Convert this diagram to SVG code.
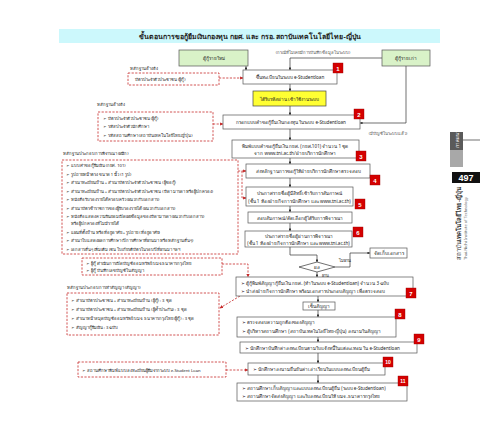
<svg xmlns="http://www.w3.org/2000/svg" width="480" height="436" viewBox="0 0 480 436">
<defs>
<style>
text{font-family:"Noto Sans","Liberation Sans","DejaVu Sans",sans-serif;fill:#222;}
.t{font-size:4.6px;}
.tc{font-size:4.6px;text-anchor:middle;}
.s{font-size:4.2px;}
.g{font-size:4.2px;fill:#555;}
.box{fill:#fff;stroke:#555;stroke-width:0.7;}
.dash{fill:none;stroke:#c62828;stroke-width:0.8;stroke-dasharray:2.2,1.4;}
.ln{fill:none;stroke:#333;stroke-width:0.7;}
.lab{fill:#d40000;stroke:#900;stroke-width:0.4;}
.labt{font-size:6px;font-weight:bold;fill:#fff;text-anchor:middle;font-family:"Liberation Sans",sans-serif;}
.grn{fill:#d9f2c8;stroke:#555;stroke-width:0.7;}
</style>
<marker id="a" viewBox="0 0 6 6" refX="5.5" refY="3" markerWidth="4" markerHeight="4" orient="auto"><path d="M0,0L6,3L0,6z" fill="#333"/></marker>
<marker id="r" viewBox="0 0 6 6" refX="5.5" refY="3" markerWidth="4" markerHeight="4" orient="auto"><path d="M0,0L6,3L0,6z" fill="#c62828"/></marker>
</defs>
<rect width="480" height="436" fill="#fff"/>

<g id="title">
<rect x="59" y="29" width="381" height="14" fill="#ccf8fc"/>
<text x="250" y="39" style="font-size:7px;font-weight:bold;text-anchor:middle">ขั้นตอนการขอกู้ยืมเงินกองทุน กยศ. และ กรอ. สถาบันเทคโนโลยีไทย-ญี่ปุ่น</text>
</g>

<g id="connectors">
<path class="ln" d="M246,66V70" marker-end="url(#a)"/>
<path class="ln" d="M382,58H290V70" marker-end="url(#a)"/>
<path class="ln" d="M290,84V91" marker-end="url(#a)"/>
<path class="ln" d="M290,106V115" marker-end="url(#a)"/>
<path class="ln" d="M406,66V123H360" marker-end="url(#a)"/>
<path class="ln" d="M290,129V140" marker-end="url(#a)"/>
<path class="ln" d="M290,158V164" marker-end="url(#a)"/>
<path class="ln" d="M290,178V187" marker-end="url(#a)"/>
<path class="ln" d="M290,206V212" marker-end="url(#a)"/>
<path class="ln" d="M290,223V231" marker-end="url(#a)"/>
<path class="ln" d="M290,247V255H317V262" marker-end="url(#a)"/>
<path class="ln" d="M335,267H350V253H370" marker-end="url(#a)"/>
<path class="ln" d="M317,272V277" marker-end="url(#a)"/>
<path class="ln" d="M318,296V302" marker-end="url(#a)"/>
<path class="ln" d="M318,310V317" marker-end="url(#a)"/>
<path class="ln" d="M318,337V342" marker-end="url(#a)"/>
<path class="ln" d="M318,353V363" marker-end="url(#a)"/>
<path class="ln" d="M318,375V383" marker-end="url(#a)"/>
<path class="dash" d="M219,78H243" marker-end="url(#r)"/>
<path class="dash" d="M213,124H223" marker-end="url(#r)"/>
<path class="dash" d="M238,171H246" marker-end="url(#r)"/>
<path class="dash" d="M242,171V198H246" marker-end="url(#r)"/>
<path class="dash" d="M222,264H248V277" marker-end="url(#r)"/>
<path class="dash" d="M240,296L220,308" marker-end="url(#r)"/>
<path class="dash" d="M226,370H248" marker-end="url(#r)"/>
<text class="g" x="313" y="54" text-anchor="middle">(กรณีที่ไม่เคยมีการบันทึกข้อมูลในระบบ)</text>
<text class="g" x="388" y="135" text-anchor="middle">(มีบัญชีในระบบแล้ว)</text>
<text class="s" x="339" y="262">ไม่ผ่าน</text>
<text class="s" x="322" y="277">ผ่าน</text>
</g>

<g id="new-borrower"><rect class="grn" x="179" y="50" width="69" height="16"/><text class="tc" x="213.5" y="60">ผู้กู้รายใหม่</text></g>
<g id="old-borrower"><rect class="grn" x="382" y="50" width="48" height="16"/><text class="tc" x="406" y="60">ผู้กู้รายเก่า</text></g>

<g id="step1"><rect class="box" x="243" y="70" width="94" height="14"/><text class="tc" x="290" y="79">ขึ้นทะเบียนในระบบ e-Studentloan</text>
<rect class="lab" x="333" y="63" width="10" height="10"/><text class="labt" x="338" y="70.5">1</text></g>

<g id="ev1"><text class="s" x="130" y="70">หลักฐานอ้างอิง</text><rect class="dash" x="128" y="73" width="91" height="12"/><text class="s" x="135" y="80.5">บัตรประจำตัวประชาชน (ผู้กู้)</text></g>

<g id="password"><rect x="253" y="91" width="73" height="15" fill="#ffff33" stroke="#444" stroke-width="0.7"/><text class="tc" x="289.5" y="100.5">ได้รับรหัสผ่าน เข้าใช้งานระบบ</text></g>

<g id="step2"><rect class="box" x="223" y="115" width="137" height="14"/><text class="tc" x="291" y="124">กรอกแบบคำขอกู้ยืมเงินกองทุน ในระบบ e-Studentloan</text>
<rect class="lab" x="354" y="109" width="10" height="10"/><text class="labt" x="359" y="116.5">2</text></g>

<g id="ev2"><text class="s" x="97" y="106">หลักฐานอ้างอิง</text><rect class="dash" x="98" y="112" width="115" height="29"/>
<text class="s" x="103" y="120">➢ บัตรประจำตัวประชาชน (ผู้กู้)</text>
<text class="s" x="103" y="128">➢ รหัสประจำตัวนักศึกษา</text>
<text class="s" x="103" y="136.5">➢ รหัสสถานศึกษา (สถาบันเทคโนโลยีไทย-ญี่ปุ่น)</text></g>

<g id="step3"><rect class="box" x="232" y="140" width="127" height="18"/>
<text class="tc" x="295" y="147.5">พิมพ์แบบคำขอกู้ยืมเงิน กยศ. (กยศ.101) จำนวน 1 ชุด</text>
<text class="tc" x="295" y="155">จาก www.tni.ac.th/ฝ่ายบริการนักศึกษา</text>
<rect class="lab" x="356" y="151" width="10" height="10"/><text class="labt" x="361" y="158.5">3</text></g>

<g id="ev3"><text class="s" x="63" y="155">หลักฐานประกอบการพิจารณา (ผนึก)</text><rect class="dash" x="62" y="160" width="176" height="94"/>
<text class="s" x="66" y="167">➢ แบบคำขอกู้ยืมเงิน (กยศ. 101)</text>
<text class="s" x="66" y="175.5">➢ รูปถ่ายหน้าตรง ขนาด 1 นิ้ว (1 รูป)</text>
<text class="s" x="66" y="184">➢ สำเนาทะเบียนบ้าน + สำเนาบัตรประจำตัวประชาชน (ผู้ขอกู้)</text>
<text class="s" x="66" y="192.5">➢ สำเนาทะเบียนบ้าน + สำเนาบัตรประจำตัวประชาชน (บิดา มารดา หรือผู้ปกครอง)</text>
<text class="s" x="66" y="201">➢ หนังสือรับรองรายได้ครอบครัว (ผนวกกับเอกสาร)</text>
<text class="s" x="66" y="209.5">➢ สำเนาบัตรข้าราชการของผู้รับรองรายได้ (ผนวกกับเอกสาร)</text>
<text class="s" x="66" y="218">➢ หนังสือแสดงความยินยอมเปิดเผยข้อมูลของบิดามารดา (ผนวกกับเอกสาร)</text>
<text class="s" x="71" y="225">หรือผู้ปกครองที่ไม่มีรายได้</text>
<text class="s" x="66" y="233.5">➢ แผนที่ตั้งบ้าน หรือที่อยู่อาศัย + รูปถ่าย (ที่อยู่อาศัย)</text>
<text class="s" x="66" y="242">➢ สำเนาใบแสดงผลการศึกษา (ปีการศึกษาที่ผ่านมา หรือหลักฐานอื่นๆ)</text>
<text class="s" x="66" y="250.5">➢ เอกสารอื่นๆ เพิ่มเติม เช่น ใบเกียรติบัตรในรอบปีที่ผ่านมา ฯลฯ</text></g>

<g id="step4"><rect class="box" x="246" y="164" width="124" height="14"/><text class="tc" x="308" y="173">ส่งหลักฐานการขอกู้ให้ฝ่ายบริการนักศึกษาตรวจสอบ</text>
<rect class="lab" x="370" y="175" width="10" height="10"/><text class="labt" x="375" y="182.5">4</text></g>

<g id="step5"><rect class="box" x="246" y="187" width="107" height="19"/>
<text class="tc" x="299.5" y="195">ประกาศรายชื่อผู้มีสิทธิ์เข้ารับการสัมภาษณ์</text>
<text class="tc" x="299.5" y="202.5">(ชั้น 1 ห้องฝ่ายกิจการนักศึกษา และ www.tni.ac.th)</text>
<rect class="lab" x="355" y="199" width="10" height="10"/><text class="labt" x="360" y="206.5">5</text></g>

<g id="interview"><rect class="box" x="248" y="212" width="104" height="11"/><text class="tc" x="300" y="219.5">สอบสัมภาษณ์/คัดเลือกผู้ได้รับการพิจารณา</text></g>

<g id="step6"><rect class="box" x="245" y="231" width="107" height="16"/>
<text class="tc" x="298.5" y="238">ประกาศรายชื่อผู้ผ่านการพิจารณา</text>
<text class="tc" x="298.5" y="245">(ชั้น 1 ห้องฝ่ายกิจการนักศึกษา และ www.tni.ac.th)</text>
<rect class="lab" x="353" y="227" width="10" height="10"/><text class="labt" x="358" y="234.5">6</text></g>

<g id="result"><polygon points="299,267 317,262 335,267 317,272" fill="#fff" stroke="#333" stroke-width="0.7"/><text class="tc" x="317" y="269">ผล</text></g>

<g id="archive"><rect class="box" x="370" y="248" width="37" height="10"/><text class="tc" x="388.5" y="255">จัดเก็บเอกสาร</text></g>

<g id="guarantor"><rect class="dash" x="82" y="258" width="140" height="17"/>
<text class="s" x="86" y="265">➢ ผู้กู้ ดำเนินการเปิดบัญชีออมทรัพย์ บมจ.ธนาคารกรุงไทย</text>
<text class="s" x="86" y="272">➢ ผู้กู้ บันทึกเลขบัญชีในสัญญา</text></g>

<g id="step7"><rect class="box" x="236" y="277" width="177" height="19"/>
<text class="t" x="241" y="284.5">➢ ผู้กู้พิมพ์สัญญากู้ยืมเงิน กยศ. (ทำในระบบ e-Studentloan) จำนวน 3 ฉบับ</text>
<text class="t" x="241" y="293">➢ นำส่งฝ่ายกิจการนักศึกษา พร้อมเอกสารประกอบสัญญา เพื่อตรวจสอบ</text>
<rect class="lab" x="406" y="288" width="10" height="10"/><text class="labt" x="411" y="295.5">7</text></g>

<g id="ev4"><text class="s" x="67" y="289">หลักฐานประกอบการทำสัญญา (สัญญา)</text><rect class="dash" x="67" y="293" width="152" height="42"/>
<text class="s" x="71" y="302">➢ สำเนาบัตรประชาชน + สำเนาทะเบียนบ้าน (ผู้กู้) : 3 ชุด</text>
<text class="s" x="71" y="311">➢ สำเนาบัตรประชาชน + สำเนาทะเบียนบ้าน (ผู้ค้ำประกัน) : 3 ชุด</text>
<text class="s" x="71" y="320">➢ สำเนาหน้าสมุดบัญชีออมทรัพย์ บมจ. ธนาคารกรุงไทย (ผู้กู้) : 3 ชุด</text>
<text class="s" x="71" y="329">➢ สัญญากู้ยืมเงิน : 3 ฉบับ</text></g>

<g id="sign"><rect class="box" x="303" y="302" width="32" height="8"/><text class="tc" x="319" y="308">เซ็นสัญญา</text></g>

<g id="step8"><rect class="box" x="237" y="317" width="159" height="20"/>
<text class="t" x="242" y="324">➢ ตรวจสอบความถูกต้องของสัญญา</text>
<text class="t" x="242" y="333">➢ ผู้บริหารสถานศึกษา (สถาบันเทคโนโลยีไทย-ญี่ปุ่น) ลงนามในสัญญา</text>
<rect class="lab" x="395" y="309" width="10" height="10"/><text class="labt" x="400" y="316.5">8</text></g>

<g id="step9"><rect class="box" x="240" y="342" width="177" height="11"/>
<text class="t" x="245" y="349.5">➢ นักศึกษาบันทึกค่าลงทะเบียนตามใบแจ้งหนี้ในแต่ละเทอม ใน e-Studentloan</text>
<rect class="lab" x="414" y="334" width="10" height="10"/><text class="labt" x="419" y="341.5">9</text></g>

<g id="print-form"><rect class="dash" x="78" y="362" width="148" height="15"/>
<text class="s" x="82" y="371.5">➢ สถานศึกษาพิมพ์แบบลงทะเบียนผู้ยืมจากระบบ e-Student Loan</text></g>

<g id="step10"><rect class="box" x="248" y="363" width="137" height="12"/>
<text class="t" x="253" y="371">➢ นักศึกษาลงนามยืนยันค่าเล่าเรียนในแบบลงทะเบียนผู้ยืม</text>
<rect class="lab" x="383" y="357" width="10" height="10"/><text class="labt" x="388" y="364" style="font-size:5px">10</text></g>

<g id="step11"><rect class="box" x="237" y="383" width="170" height="18"/>
<text class="t" x="242" y="390">➢ สถานศึกษาเก็บสัญญาและแบบลงทะเบียนผู้ยืม (ระบบ e-Studentloan)</text>
<text class="t" x="242" y="398">➢ สถานศึกษาจัดส่งสัญญา และใบลงทะเบียนให้ บมจ.ธนาคารกรุงไทย</text>
<rect class="lab" x="398" y="376" width="10" height="10"/><text class="labt" x="403" y="383" style="font-size:5px">11</text></g>

<g id="side-tab">
<path d="M463,140H480" stroke="#333" stroke-width="0.7"/>
<rect x="450" y="132" width="13" height="35" fill="#a8a8a8"/>
<rect x="450" y="132" width="13" height="18" fill="#5a5a5a"/>
<text transform="translate(458.5,148) rotate(-90)" style="font-size:4.5px;fill:#fff">ภาคผนวก</text>
<rect x="452" y="172" width="28" height="11" fill="#111"/>
<text x="466" y="181" style="font-size:9px;font-weight:bold;fill:#fff;text-anchor:middle;font-family:'Liberation Sans',sans-serif">497</text>
<text transform="translate(461,260) rotate(-90)" style="font-size:6px;fill:#333">สถาบัน<tspan font-weight="bold">เทคโนโลยีไทย-ญี่ปุ่น</tspan></text>
<text transform="translate(467,260) rotate(-90)" style="font-size:4px;fill:#666">Thai-Nichi Institute of Technology</text>
</g>
</svg>
